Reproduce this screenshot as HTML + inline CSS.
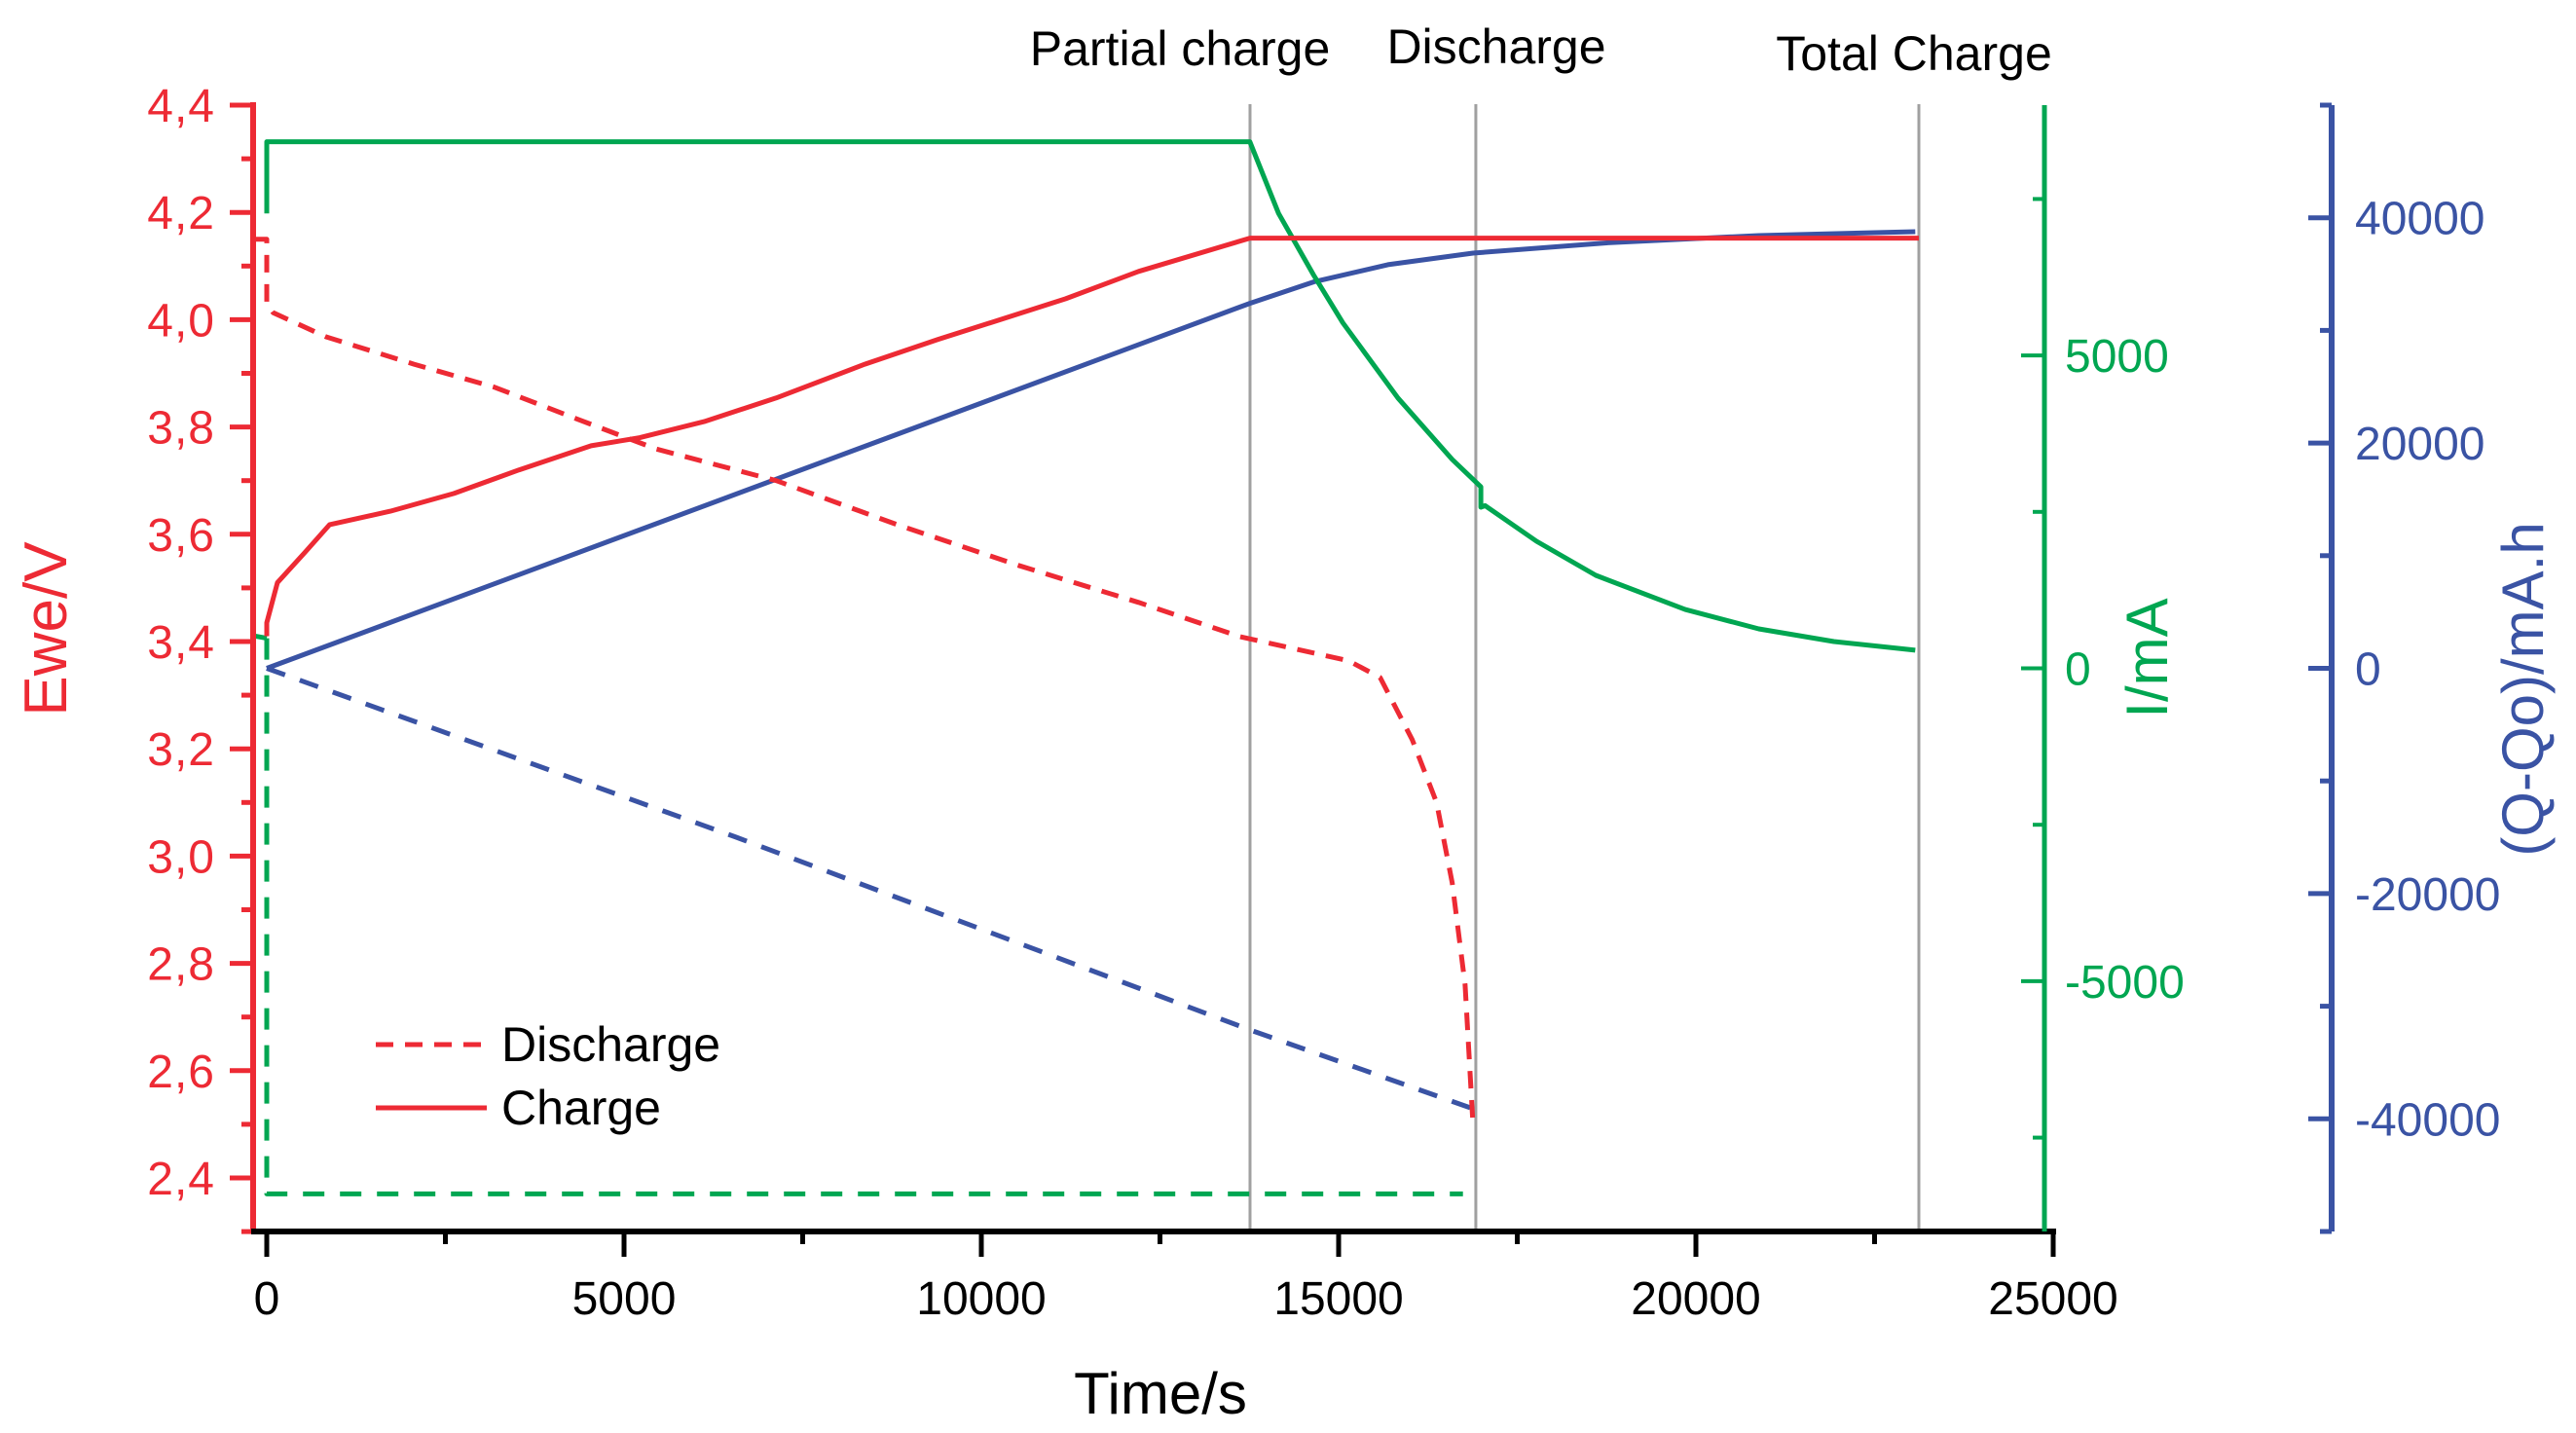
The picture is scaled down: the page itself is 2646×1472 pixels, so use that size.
<!DOCTYPE html>
<html><head><meta charset="utf-8"><style>
html,body{margin:0;padding:0;background:#fff;}
svg{display:block;font-family:"Liberation Sans",Arial,sans-serif;}
</style></head><body>
<svg id="chart" width="2646" height="1472" viewBox="0 0 2646 1472" xmlns="http://www.w3.org/2000/svg">
<g id="grid"></g>
<g id="series"></g>
<g id="axes"></g>
<text x="1212" y="67" font-size="50" text-anchor="middle">Partial charge</text>
<text x="1537" y="65" font-size="50" text-anchor="middle">Discharge</text>
<text x="1966" y="72" font-size="50" text-anchor="middle">Total Charge</text>
<text x="1192" y="1452" font-size="60" text-anchor="middle">Time/s</text>
<text transform="translate(68,646) rotate(-90)" font-size="62" fill="#ed2a34" text-anchor="middle">Ewe/V</text>
<text transform="translate(2226,676) rotate(-90)" font-size="60" fill="#00a651" text-anchor="middle">I/mA</text>
<text transform="translate(2612,708) rotate(-90)" font-size="60" fill="#3a53a4" text-anchor="middle">(Q-Qo)/mA.h</text>
<g>
<line x1="386" y1="1073" x2="500" y2="1073" stroke="#ed2a34" stroke-width="5" stroke-dasharray="18,12"/>
<text x="515" y="1090" font-size="50">Discharge</text>
<line x1="386" y1="1138" x2="500" y2="1138" stroke="#ed2a34" stroke-width="5"/>
<text x="515" y="1155" font-size="50">Charge</text>
</g>
</svg>
<script>
const phaseTimes = [13760, 16920, 23120];
const xTicks = [0, 5000, 10000, 15000, 20000, 25000];
const vTicks = [2.4, 2.6, 2.8, 3.0, 3.2, 3.4, 3.6, 3.8, 4.0, 4.2, 4.4];
const iTicks = [-5000, 0, 5000];
const qTicks = [-40000, -20000, 0, 20000, 40000];
const chargeVT = [0, 0, 150, 540, 880, 1730, 2620, 3530, 4540, 5220, 6120, 7130, 8370, 9390, 11180, 12200, 13760, 23120];
const chargeV  = [3.41, 3.435, 3.51, 3.567, 3.618, 3.643, 3.676, 3.72, 3.765, 3.78, 3.81, 3.854, 3.917, 3.963, 4.039, 4.09, 4.152, 4.152];
const dischVT = [-190, 0, 0, 90, 830, 2060, 3190, 4320, 5450, 7130, 8820, 10520, 12200, 13620, 15140, 15580, 16030, 16370, 16590, 16770, 16880];
const dischV  = [4.15, 4.15, 4.03, 4.013, 3.968, 3.917, 3.874, 3.816, 3.759, 3.70, 3.618, 3.542, 3.473, 3.409, 3.364, 3.333, 3.217, 3.10, 2.95, 2.76, 2.50];
const chargeIT = [0, 0, 13757, 14160, 14650, 15060, 15830, 16590, 16990, 16990, 17050, 17770, 18600, 19850, 20880, 21930, 23070];
const chargeI  = [7270, 8415, 8415, 7270, 6285, 5520, 4320, 3337, 2900, 2575, 2600, 2030, 1485, 940, 630, 428, 290];
const restIT = [-190, 0];
const restI  = [520, 480];
const dischIT = [0, 0, 16740];
const dischI  = [480, -8400, -8400];
const chargeQT = [0, 13757, 14650, 15690, 16880, 18800, 20880, 23070];
const chargeQ  = [0, 32400, 34300, 35830, 36860, 37800, 38420, 38760];
const dischQT = [0, 6570, 13757, 16880];
const dischQ  = [0, -15000, -32100, -39100];

const NS = "http://www.w3.org/2000/svg";
const X0 = 274, XS = 0.0734;
const TOP = 108, BOT = 1265;
function xs(t){ return X0 + t * XS; }
function yV(v){ return TOP + (4.4 - v) / 0.2 * 110.2; }
function yI(i){ return 686.5 - i * (1157 / 18000); }
function yQ(q){ return 686.5 - q * (1157 / 100000); }
const RED = "#ed2a34", GREEN = "#00a651", BLUE = "#3a53a4";
function mk(tag, attrs, parent){
  const el = document.createElementNS(NS, tag);
  for (const k in attrs) el.setAttribute(k, attrs[k]);
  parent.appendChild(el);
  return el;
}
const grid = document.getElementById('grid');
const series = document.getElementById('series');
const axes = document.getElementById('axes');

phaseTimes.forEach(t => {
  const l = mk('line', {x1: xs(t), x2: xs(t), y1: 107, y2: BOT, stroke: '#a0a0a0', 'stroke-width': 3}, grid);
  
  
});

function path(ts, vs, yf, color, dash, name){
  let d = '';
  ts.forEach((t, k) => { d += (k ? 'L' : 'M') + xs(t).toFixed(1) + ',' + yf(vs[k]).toFixed(1); });
  const p = mk('path', {d: d, fill: 'none', stroke: color, 'stroke-width': 5, 'stroke-linejoin': 'round'}, series);
  if (dash) p.setAttribute('stroke-dasharray', dash);
  
  
}
path(dischQT, dischQ, yQ, BLUE, '20,16', 'discharge-capacity-line');
path(chargeQT, chargeQ, yQ, BLUE, null, 'charge-capacity-line');
path(dischIT, dischI, yI, GREEN, '22,16', 'discharge-current-line');
path(restIT, restI, yI, GREEN, null, 'rest-current-line');
path(chargeIT, chargeI, yI, GREEN, null, 'charge-current-line');
path(dischVT, dischV, yV, RED, '18,12', 'discharge-voltage-line');
path(chargeVT, chargeV, yV, RED, null, 'charge-voltage-line');

let a = mk('line', {x1: 260, x2: 260, y1: 105, y2: BOT + 2, stroke: RED, 'stroke-width': 6}, axes);


vTicks.forEach(v => {
  const y = yV(v);
  const tk = mk('line', {x1: 236, x2: 260, y1: y, y2: y, stroke: RED, 'stroke-width': 5}, axes);
  
  
  const mn = mk('line', {x1: 248, x2: 260, y1: yV(v - 0.1), y2: yV(v - 0.1), stroke: RED, 'stroke-width': 5}, axes);
  
  
  const tx = mk('text', {x: 221, y: y + 17, 'font-size': 48, fill: RED, 'text-anchor': 'end', 'letter-spacing': 1}, axes);
  tx.textContent = v.toFixed(1).replace('.', ',');
  
  
});
a = mk('line', {x1: 258, x2: 2112, y1: BOT, y2: BOT, stroke: '#000', 'stroke-width': 6}, axes);


xTicks.forEach((t, k) => {
  const x = xs(t);
  const tk = mk('line', {x1: x, x2: x, y1: BOT, y2: BOT + 26, stroke: '#000', 'stroke-width': 5}, axes);
  
  
  if (k < xTicks.length - 1) {
    const mx = xs(t + 2500);
    const mn = mk('line', {x1: mx, x2: mx, y1: BOT, y2: BOT + 13, stroke: '#000', 'stroke-width': 5}, axes);
    
    
  }
  const tx = mk('text', {x: x, y: 1350, 'font-size': 48, 'text-anchor': 'middle'}, axes);
  tx.textContent = String(t);
  
  
});
a = mk('line', {x1: 2100, x2: 2100, y1: TOP, y2: BOT, stroke: GREEN, 'stroke-width': 5}, axes);


iTicks.forEach(i => {
  const y = yI(i);
  const tk = mk('line', {x1: 2076, x2: 2100, y1: y, y2: y, stroke: GREEN, 'stroke-width': 4}, axes);
  
  
  const tx = mk('text', {x: 2121, y: y + 17, 'font-size': 48, fill: GREEN}, axes);
  tx.textContent = String(i);
  
  
});
[-7500, -2500, 2500, 7500].forEach(i => {
  const mn = mk('line', {x1: 2088, x2: 2100, y1: yI(i), y2: yI(i), stroke: GREEN, 'stroke-width': 4}, axes);
  
  
});
a = mk('line', {x1: 2395, x2: 2395, y1: TOP, y2: BOT, stroke: BLUE, 'stroke-width': 6}, axes);


qTicks.forEach(q => {
  const y = yQ(q);
  const tk = mk('line', {x1: 2371, x2: 2395, y1: y, y2: y, stroke: BLUE, 'stroke-width': 5}, axes);
  
  
  const tx = mk('text', {x: 2419, y: y + 17, 'font-size': 48, fill: BLUE}, axes);
  tx.textContent = String(q);
  
  
});
[-50000, -30000, -10000, 10000, 30000, 50000].forEach(q => {
  const mn = mk('line', {x1: 2383, x2: 2395, y1: yQ(q), y2: yQ(q), stroke: BLUE, 'stroke-width': 5}, axes);
  
  
});
</script>
</body></html>
